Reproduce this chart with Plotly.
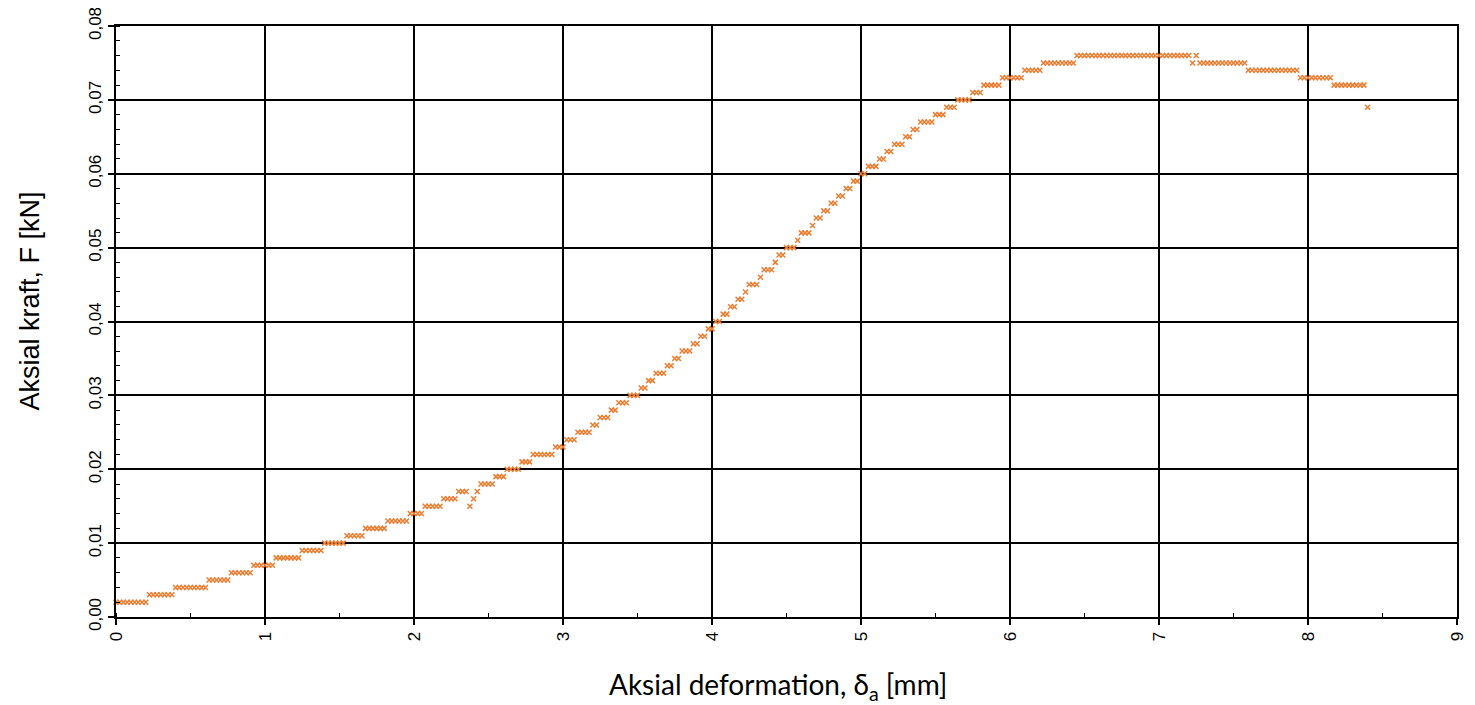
import plotly.graph_objects as go

# Axial deformation [mm]
deformation_mm = [
    0.000, 0.025, 0.050, 0.075, 0.100, 0.125, 0.150, 0.175, 0.200, 0.225,
    0.250, 0.275, 0.300, 0.325, 0.350, 0.375, 0.400, 0.425, 0.450, 0.475,
    0.500, 0.525, 0.550, 0.575, 0.600, 0.625, 0.650, 0.675, 0.700, 0.725,
    0.750, 0.775, 0.800, 0.825, 0.850, 0.875, 0.900, 0.925, 0.950, 0.975,
    1.000, 1.025, 1.050, 1.075, 1.100, 1.125, 1.150, 1.175, 1.200, 1.225,
    1.250, 1.275, 1.300, 1.325, 1.350, 1.375, 1.400, 1.425, 1.450, 1.475,
    1.500, 1.525, 1.550, 1.575, 1.600, 1.625, 1.650, 1.675, 1.700, 1.725,
    1.750, 1.775, 1.800, 1.825, 1.850, 1.875, 1.900, 1.925, 1.950, 1.975,
    2.000, 2.025, 2.050, 2.075, 2.100, 2.125, 2.150, 2.175, 2.200, 2.225,
    2.250, 2.275, 2.300, 2.325, 2.350, 2.375, 2.400, 2.425, 2.450, 2.475,
    2.500, 2.525, 2.550, 2.575, 2.600, 2.625, 2.650, 2.675, 2.700, 2.725,
    2.750, 2.775, 2.800, 2.825, 2.850, 2.875, 2.900, 2.925, 2.950, 2.975,
    3.000, 3.025, 3.050, 3.075, 3.100, 3.125, 3.150, 3.175, 3.200, 3.225,
    3.250, 3.275, 3.300, 3.325, 3.350, 3.375, 3.400, 3.425, 3.450, 3.475,
    3.500, 3.525, 3.550, 3.575, 3.600, 3.625, 3.650, 3.675, 3.700, 3.725,
    3.750, 3.775, 3.800, 3.825, 3.850, 3.875, 3.900, 3.925, 3.950, 3.975,
    4.000, 4.025, 4.050, 4.075, 4.100, 4.125, 4.150, 4.175, 4.200, 4.225,
    4.250, 4.275, 4.300, 4.325, 4.350, 4.375, 4.400, 4.425, 4.450, 4.475,
    4.500, 4.525, 4.550, 4.575, 4.600, 4.625, 4.650, 4.675, 4.700, 4.725,
    4.750, 4.775, 4.800, 4.825, 4.850, 4.875, 4.900, 4.925, 4.950, 4.975,
    5.000, 5.025, 5.050, 5.075, 5.100, 5.125, 5.150, 5.175, 5.200, 5.225,
    5.250, 5.275, 5.300, 5.325, 5.350, 5.375, 5.400, 5.425, 5.450, 5.475,
    5.500, 5.525, 5.550, 5.575, 5.600, 5.625, 5.650, 5.675, 5.700, 5.725,
    5.750, 5.775, 5.800, 5.825, 5.850, 5.875, 5.900, 5.925, 5.950, 5.975,
    6.000, 6.025, 6.050, 6.075, 6.100, 6.125, 6.150, 6.175, 6.200, 6.225,
    6.250, 6.275, 6.300, 6.325, 6.350, 6.375, 6.400, 6.425, 6.450, 6.475,
    6.500, 6.525, 6.550, 6.575, 6.600, 6.625, 6.650, 6.675, 6.700, 6.725,
    6.750, 6.775, 6.800, 6.825, 6.850, 6.875, 6.900, 6.925, 6.950, 6.975,
    7.000, 7.025, 7.050, 7.075, 7.100, 7.125, 7.150, 7.175, 7.200, 7.225,
    7.250, 7.275, 7.300, 7.325, 7.350, 7.375, 7.400, 7.425, 7.450, 7.475,
    7.500, 7.525, 7.550, 7.575, 7.600, 7.625, 7.650, 7.675, 7.700, 7.725,
    7.750, 7.775, 7.800, 7.825, 7.850, 7.875, 7.900, 7.925, 7.950, 7.975,
    8.000, 8.025, 8.050, 8.075, 8.100, 8.125, 8.150, 8.175, 8.200, 8.225,
    8.250, 8.275, 8.300, 8.325, 8.350, 8.375, 8.400,
]

# Axial force [kN]
force_kN = [
    0.002, 0.002, 0.002, 0.002, 0.002, 0.002, 0.002, 0.002, 0.002,
    0.003, 0.003, 0.003, 0.003, 0.003, 0.003, 0.003,
    0.004, 0.004, 0.004, 0.004, 0.004, 0.004, 0.004, 0.004, 0.004,
    0.005, 0.005, 0.005, 0.005, 0.005, 0.005,
    0.006, 0.006, 0.006, 0.006, 0.006, 0.006,
    0.007, 0.007, 0.007, 0.007, 0.007, 0.007,
    0.008, 0.008, 0.008, 0.008, 0.008, 0.008, 0.008,
    0.009, 0.009, 0.009, 0.009, 0.009, 0.009,
    0.010, 0.010, 0.010, 0.010, 0.010, 0.010,
    0.011, 0.011, 0.011, 0.011, 0.011,
    0.012, 0.012, 0.012, 0.012, 0.012, 0.012,
    0.013, 0.013, 0.013, 0.013, 0.013, 0.013,
    0.014, 0.014, 0.014, 0.014,
    0.015, 0.015, 0.015, 0.015, 0.015,
    0.016, 0.016, 0.016, 0.016,
    0.017, 0.017, 0.017,
    0.015, 0.016, 0.017,
    0.018, 0.018, 0.018, 0.018,
    0.019, 0.019, 0.019,
    0.020, 0.020, 0.020, 0.020,
    0.021, 0.021, 0.021,
    0.022, 0.022, 0.022, 0.022, 0.022, 0.022,
    0.023, 0.023, 0.023,
    0.024, 0.024, 0.024,
    0.025, 0.025, 0.025, 0.025,
    0.026, 0.026,
    0.027, 0.027, 0.027,
    0.028, 0.028,
    0.029, 0.029, 0.029,
    0.030, 0.030, 0.030,
    0.031, 0.031,
    0.032, 0.032,
    0.033, 0.033, 0.033,
    0.034, 0.034,
    0.035, 0.035,
    0.036, 0.036, 0.036,
    0.037, 0.037,
    0.038, 0.038,
    0.039, 0.039,
    0.040, 0.040,
    0.041, 0.041,
    0.042, 0.042,
    0.043, 0.043,
    0.044,
    0.045, 0.045, 0.045,
    0.046,
    0.047, 0.047, 0.047,
    0.048,
    0.049, 0.049,
    0.050, 0.050, 0.050,
    0.051,
    0.052, 0.052, 0.052,
    0.053,
    0.054, 0.054,
    0.055, 0.055,
    0.056, 0.056,
    0.057, 0.057,
    0.058, 0.058,
    0.059, 0.059,
    0.060, 0.060,
    0.061, 0.061, 0.061,
    0.062, 0.062,
    0.063, 0.063,
    0.064, 0.064, 0.064,
    0.065, 0.065,
    0.066, 0.066,
    0.067, 0.067, 0.067, 0.067,
    0.068, 0.068, 0.068,
    0.069, 0.069, 0.069,
    0.070, 0.070, 0.070, 0.070,
    0.071, 0.071, 0.071,
    0.072, 0.072, 0.072, 0.072, 0.072,
    0.073, 0.073, 0.073, 0.073, 0.073, 0.073,
    0.074, 0.074, 0.074, 0.074, 0.074,
    0.075, 0.075, 0.075, 0.075, 0.075, 0.075, 0.075, 0.075, 0.075,
    0.076, 0.076, 0.076, 0.076, 0.076, 0.076, 0.076, 0.076, 0.076, 0.076,
    0.076, 0.076, 0.076, 0.076, 0.076, 0.076, 0.076, 0.076, 0.076, 0.076,
    0.076, 0.076, 0.076, 0.076, 0.076, 0.076, 0.076, 0.076, 0.076, 0.076,
    0.076,
    0.075, 0.076,
    0.075, 0.075, 0.075, 0.075, 0.075, 0.075, 0.075, 0.075, 0.075, 0.075,
    0.075, 0.075, 0.075,
    0.074, 0.074, 0.074, 0.074, 0.074, 0.074, 0.074, 0.074, 0.074, 0.074,
    0.074, 0.074, 0.074, 0.074,
    0.073, 0.073, 0.073, 0.073, 0.073, 0.073, 0.073, 0.073, 0.073,
    0.072, 0.072, 0.072, 0.072, 0.072, 0.072, 0.072, 0.072, 0.072,
    0.069,
]

x_ticks = [0, 1, 2, 3, 4, 5, 6, 7, 8, 9]
x_tick_labels = ["0", "1", "2", "3", "4", "5", "6", "7", "8", "9"]
y_ticks = [0.00, 0.01, 0.02, 0.03, 0.04, 0.05, 0.06, 0.07, 0.08]
y_tick_labels = ["0,00", "0,01", "0,02", "0,03", "0,04", "0,05", "0,06", "0,07", "0,08"]

x_title = "Aksial deformation, δ<sub>a</sub> [mm]"
y_title = "Aksial kraft, F [kN]"

ORANGE = "#ED7D31"

fig = go.Figure()
fig.add_trace(go.Scatter(
    x=deformation_mm, y=force_kN, mode="markers",
    marker=dict(symbol="x-thin", size=5, color=ORANGE,
                line=dict(width=1.5, color=ORANGE)),
    cliponaxis=False, showlegend=False,
))

tickfont = dict(family="Liberation Sans, Arial, sans-serif", size=17, color="#000")

fig.update_layout(
    width=1467, height=697,
    margin=dict(l=108, r=18, t=18, b=88, autoexpand=False),
    paper_bgcolor="white", plot_bgcolor="white",
    separators=", ",
    showlegend=False,
    annotations=[
        dict(text=x_title, xref="paper", yref="paper", x=0.4937, y=-0.1168,
             xanchor="center", yanchor="middle", showarrow=False,
             font=dict(family="Lato, Carlito, sans-serif", size=28, color="#000")),
        dict(text=y_title, xref="paper", yref="paper", x=-0.0638, y=0.5347,
             xanchor="center", yanchor="middle", showarrow=False, textangle=-90,
             font=dict(family="Liberation Sans, Arial, sans-serif", size=27, color="#000")),
    ],
)

fig.update_xaxes(
    range=[0, 9], tickvals=x_ticks, ticktext=x_tick_labels, automargin=False,
    tickangle=-90, tickfont=tickfont, ticklabeloverflow="allow",
    showgrid=True, gridcolor="#000", gridwidth=2,
    showline=True, linecolor="#000", linewidth=2, mirror=True,
    ticks="outside", ticklen=6, tickwidth=2, tickcolor="#000",
    minor=dict(dtick=0.5, ticks="inside", ticklen=4, tickwidth=1,
               tickcolor="#000", showgrid=False),
    zeroline=False,
)
fig.update_yaxes(
    range=[0, 0.08], tickvals=y_ticks, ticktext=y_tick_labels, automargin=False,
    tickangle=-90, tickfont=tickfont, ticklabeloverflow="allow",
    showgrid=True, gridcolor="#000", gridwidth=2,
    showline=True, linecolor="#000", linewidth=2, mirror=True,
    ticks="outside", ticklen=6, tickwidth=2, tickcolor="#000",
    minor=dict(dtick=0.002, ticks="inside", ticklen=4, tickwidth=1,
               tickcolor="#000", showgrid=False),
    zeroline=False,
)

fig.write_html("out.html")
